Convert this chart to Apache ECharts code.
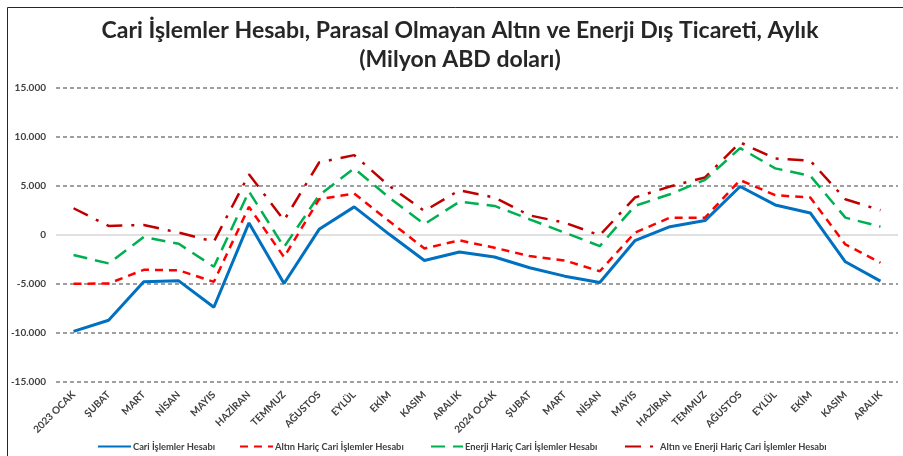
<!DOCTYPE html>
<html>
<head>
<meta charset="utf-8">
<script src="https://cdn.jsdelivr.net/npm/echarts@6/dist/echarts.min.js"></script>
<style>
html,body{margin:0;padding:0;background:#fff;}
#c{width:903px;height:456px;}
</style>
</head>
<body>
<div id="c"></div>
<script>
var categories = ["2023 OCAK","ŞUBAT","MART","NİSAN","MAYIS","HAZİRAN","TEMMUZ","AĞUSTOS","EYLÜL","EKİM","KASIM","ARALIK",
                  "2024 OCAK","ŞUBAT","MART","NİSAN","MAYIS","HAZİRAN","TEMMUZ","AĞUSTOS","EYLÜL","EKİM","KASIM","ARALIK"];
var cari = [-9830,-8700,-4780,-4680,-7370,1230,-4950,580,2870,70,-2600,-1740,
            -2250,-3340,-4200,-4850,-580,850,1470,4950,3070,2250,-2730,-4710];
var altinHaric = [-4980,-4950,-3550,-3600,-4780,2870,-2250,3650,4230,1400,-1370,-550,
                  -1300,-2150,-2600,-3700,240,1770,1770,5600,4060,3820,-960,-2830];
var enerjiHaric = [-2050,-2900,-200,-900,-3240,4440,-1230,4060,6800,3800,1100,3400,
                   2970,1600,240,-1130,2970,4160,5630,8870,6800,6040,1770,850];
var altinEnerjiHaric = [2730,920,1020,240,-680,6200,1500,7400,8150,5000,2450,4570,
                        3820,2000,1260,-30,3820,4950,5870,9450,7800,7580,3650,2530];
var seriesNames = ["Cari İşlemler Hesabı","Altın Hariç Cari İşlemler Hesabı","Enerji Hariç Cari İşlemler Hesabı","Altın ve Enerji Hariç Cari İşlemler Hesabı"];
var titleText = "Cari İşlemler Hesabı, Parasal Olmayan Altın ve Enerji Dış Ticareti, Aylık\n(Milyon ABD doları)";

var FONT = "Lato";
function fmt(v){
  var s = Math.abs(v).toString().replace(/\B(?=(\d{3})+(?!\d))/g, ".");
  return (v < 0 ? "-" : "") + s;
}
var chart = echarts.init(document.getElementById('c'), null, {renderer:'canvas'});
function legendAt(name, left, w){
  return {
    data:[name], left:left, top:442, itemWidth:w, itemHeight:10, itemGap:2,
    itemStyle:{opacity:0},
    textStyle:{fontFamily:FONT, fontWeight:'bold', fontSize:9.3, color:'#404040', padding:[0,0,0,-3]},
    padding:0
  };
}
var option = {
  backgroundColor:'#fff',
  animation:false,
  title:{
    text:titleText, left:460, top:16, padding:0, textAlign:'center',
    textStyle:{fontFamily:FONT, fontWeight:'bold', fontSize:23, color:'#262626', lineHeight:29}
  },
  graphic:[{type:'rect', shape:{x:7.5,y:7.5,width:1000,height:1000}, style:{fill:'none', stroke:'#262626', lineWidth:1}, silent:true}],
  legend:[
    legendAt(seriesNames[0], 97, 33),
    legendAt(seriesNames[1], 239, 33),
    legendAt(seriesNames[2], 430, 32),
    legendAt(seriesNames[3], 624, 33)
  ],
  grid:{left:56, right:5, top:88, bottom:74, containLabel:false},
  xAxis:{
    type:'category', data:categories, boundaryGap:true,
    axisLine:{show:false}, axisTick:{show:false}, splitLine:{show:false},
    axisLabel:{rotate:45, interval:0, margin:11, fontFamily:FONT, fontWeight:'bold', fontSize:10, color:'#404040'}
  },
  yAxis:{
    type:'value', min:-15000, max:15000, interval:5000,
    axisLine:{show:false}, axisTick:{show:false},
    axisLabel:{formatter:fmt, margin:10, fontFamily:FONT, fontWeight:'bold', fontSize:10, color:'#404040'},
    splitLine:{show:true, lineStyle:{color:['#808080','#808080','#808080','rgba(0,0,0,0)','#808080','#808080','#808080'], width:1.5, type:[4,3]}}
  },
  series:[
    {name:seriesNames[0], type:'line', data:cari, symbol:'none', z:5,
     lineStyle:{color:'#0070C0', width:3, type:'solid'}, itemStyle:{color:'#0070C0'},
     markLine:{silent:true, symbol:'none', label:{show:false}, lineStyle:{color:'#e0e0e0', width:2, type:'solid'}, data:[{yAxis:0}], z:1}},
    {name:seriesNames[1], type:'line', data:altinHaric, symbol:'none', z:4,
     lineStyle:{color:'#FF0000', width:2.5, type:[8,6]}, itemStyle:{color:'#FF0000'}},
    {name:seriesNames[2], type:'line', data:enerjiHaric, symbol:'none', z:3,
     lineStyle:{color:'#00B050', width:2.5, type:[14,8]}, itemStyle:{color:'#00B050'}},
    {name:seriesNames[3], type:'line', data:altinEnerjiHaric, symbol:'none', z:2,
     lineStyle:{color:'#C00000', width:2.5, type:[16,9,3,9]}, itemStyle:{color:'#C00000'}}
  ]
};
chart.setOption(option);
</script>
</body>
</html>
